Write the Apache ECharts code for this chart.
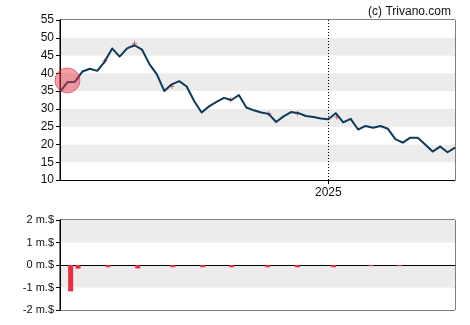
<!DOCTYPE html>
<html>
<head>
<meta charset="utf-8">
<script src="https://cdn.jsdelivr.net/npm/echarts@6/dist/echarts.min.js"></script>
<style>
  html, body { margin: 0; padding: 0; background: #fff; }
  #chart { width: 470px; height: 325px; }
</style>
</head>
<body>
<div id="chart"></div>
<script>
// Weekly closing prices, starting with the week of 2024-04-24
const firstWeek = [2024, 3, 24];
const closes = [
  34.8, 37.5, 37.6, 40.5, 41.3, 40.7, 43.3, 47.0, 44.7, 47.0,
  47.9, 46.7, 42.6, 39.7, 35.0, 36.9, 37.8, 36.3, 32.2, 29.0,
  30.7, 32.0, 33.1, 32.5, 33.9, 30.4, 29.6, 29.0, 28.6, 26.3,
  27.9, 29.1, 28.8, 28.0, 27.7, 27.3, 27.1, 28.8, 26.2, 27.2,
  24.2, 25.2, 24.7, 25.2, 24.4, 21.5, 20.5, 21.9, 21.9, 20.0,
  18.0, 19.4, 17.8, 19.1
];

// Insider transactions (million $)
const tradeDates = [
  '2024-05-04', '2024-05-11', '2024-06-08', '2024-07-06', '2024-08-08', '2024-09-05',
  '2024-10-02', '2024-11-05', '2024-12-03', '2025-01-06', '2025-02-10', '2025-03-09'
];
const tradeValues = [-1.17, -0.16, -0.1, -0.15, -0.1, -0.1, -0.1, -0.1, -0.1, -0.1, -0.05, -0.05];

// Price marks for the transactions
const markDates = ['2024-06-05', '2024-07-03', '2024-08-07', '2024-10-01', '2024-11-06', '2024-12-03', '2025-01-09'];
const markPrices = [43.5, 48.3, 36.4, 32.5, 28.6, 28.8, 27.7];

// Highlighted week
const highlightDate = '2024-05-01';
const highlightPrice = 38;

const yearMark = '2025-01-01';
const yearLabel = '2025';
const priceTicks = [10, 55, 5];
const volumeTicks = [-2, 2, 1];

function parseDay(s) {
  const p = s.split('-').map(Number);
  return +new Date(p[0], p[1] - 1, p[2]);
}
const weekTimes = closes.map((_, i) => +new Date(firstWeek[0], firstWeek[1], firstWeek[2] + 7 * i));
const xMin = weekTimes[0];
const xMax = weekTimes[weekTimes.length - 1];
const yearTime = parseDay(yearMark);

const font = 'Arial, "Liberation Sans", sans-serif';
const textColor = '#111';

const chart = echarts.init(document.getElementById('chart'), null, { renderer: 'canvas' });
chart.setOption({
  animation: false,
  backgroundColor: '#fff',
  title: {
    text: '(c) Trivano.com',
    right: 14,
    top: 1,
    textStyle: { fontFamily: font, fontSize: 12, fontWeight: 'normal', color: textColor }
  },
  grid: [
    { left: 60, top: 20, width: 395, height: 160, show: true, borderColor: '#000', borderWidth: 1, backgroundColor: 'transparent' },
    { left: 60, top: 220, width: 395, height: 90, show: true, borderColor: '#000', borderWidth: 1, backgroundColor: 'transparent' }
  ],
  xAxis: [
    {
      type: 'value', gridIndex: 0, min: xMin, max: xMax,
      axisLine: { show: true, lineStyle: { color: '#000', width: 1 } },
      axisTick: { show: true, length: 4, customValues: [yearTime], lineStyle: { color: '#000' } },
      axisLabel: {
        show: true, customValues: [yearTime], formatter: () => yearLabel,
        fontFamily: font, fontSize: 12, color: textColor, margin: 7
      },
      splitLine: { show: false }
    },
    {
      type: 'value', gridIndex: 1, min: xMin, max: xMax,
      axisLine: { show: true, onZero: true, lineStyle: { color: '#000', width: 1 } },
      axisTick: { show: false },
      axisLabel: { show: false },
      splitLine: { show: false }
    }
  ],
  yAxis: [
    {
      type: 'value', gridIndex: 0, min: priceTicks[0], max: priceTicks[1], interval: priceTicks[2],
      axisLine: { show: true, lineStyle: { color: '#000' } },
      axisTick: { show: true, length: 4, lineStyle: { color: '#000' } },
      axisLabel: { fontFamily: font, fontSize: 12, color: textColor, margin: 6 },
      splitLine: { show: false },
      splitArea: { show: true, areaStyle: { color: ['#ffffff', '#ececec'] } }
    },
    {
      type: 'value', gridIndex: 1, min: volumeTicks[0], max: volumeTicks[1], interval: volumeTicks[2],
      axisLine: { show: true, lineStyle: { color: '#000' } },
      axisTick: { show: true, length: 4, lineStyle: { color: '#000' } },
      axisLabel: { fontFamily: font, fontSize: 11, color: textColor, margin: 6, formatter: v => v + ' m.$' },
      splitLine: { show: false },
      splitArea: { show: true, areaStyle: { color: ['#ffffff', '#ececec'] } }
    }
  ],
  series: [
    {
      type: 'line', xAxisIndex: 0, yAxisIndex: 0,
      data: weekTimes.map((t, i) => [t, closes[i]]),
      showSymbol: false,
      lineStyle: { color: '#0c3a5b', width: 2, join: 'round' },
      z: 3,
      markLine: {
        silent: true, symbol: 'none', label: { show: false },
        lineStyle: { color: '#000', type: [1, 2], width: 1 },
        data: [{ xAxis: yearTime }]
      }
    },
    {
      type: 'scatter', xAxisIndex: 0, yAxisIndex: 0,
      data: markDates.map((d, i) => [parseDay(d), markPrices[i]]),
      symbol: 'path://M2,0H3V2H5V3H3V5H2V3H0V2H2Z',
      symbolSize: 5,
      itemStyle: { color: '#ee2a3f' },
      z: 2
    },
    {
      type: 'scatter', xAxisIndex: 0, yAxisIndex: 0,
      data: [[parseDay(highlightDate), highlightPrice]],
      symbolSize: 25,
      itemStyle: { color: 'rgba(235, 55, 70, 0.6)', borderColor: 'rgba(215, 40, 55, 0.7)', borderWidth: 1 },
      z: 4
    },
    {
      type: 'bar', xAxisIndex: 1, yAxisIndex: 1,
      data: tradeDates.map((d, i) => [parseDay(d), tradeValues[i]]),
      barWidth: 5,
      itemStyle: { color: '#ee2a3f' }
    }
  ]
});
</script>
</body>
</html>
